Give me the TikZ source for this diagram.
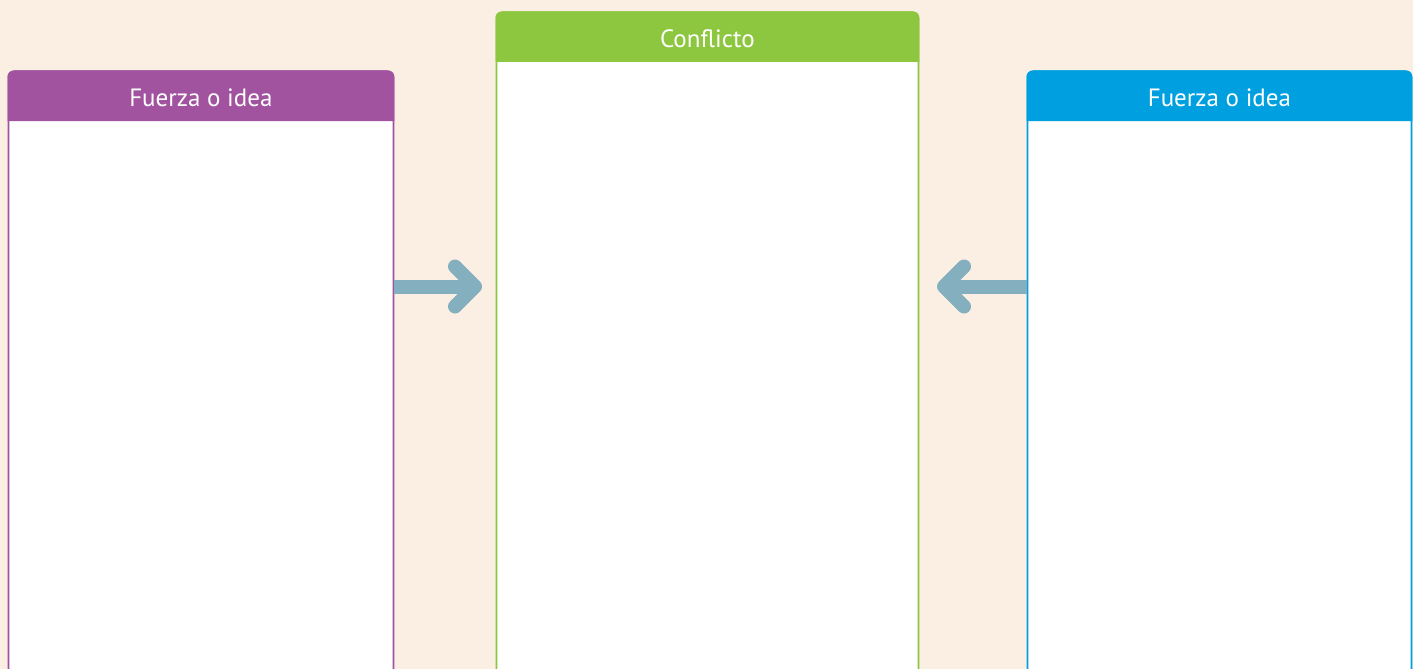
\documentclass[tikz,border=0pt]{standalone}
\usepackage{fontspec}
\setmainfont{PT Sans}
\usetikzlibrary{calc}
\definecolor{bg}{HTML}{FBEEE2}
\definecolor{cpurple}{HTML}{A2539F}
\definecolor{cgreen}{HTML}{8DC63F}
\definecolor{cblue}{HTML}{00A0E0}
\definecolor{carrow}{HTML}{84AFBE}
\tikzset{
  panel/.style={draw=#1, line width=1.8pt, fill=white, rounded corners=6pt, inner sep=0pt, anchor=north west},
  title/.style={text=white, font=\fontsize{25}{30}\selectfont, inner sep=0pt},
  shaft/.style={draw=carrow, line width=14pt, line cap=butt},
  barb/.style={draw=carrow, line width=14pt, line cap=round, line join=round},
}
\begin{document}
\begin{tikzpicture}[x=1pt,y=-1pt]
\useasboundingbox (0,0) rectangle (1413,669);
\fill[bg] (0,0) rectangle (1413,669);
\clip (0,0) rectangle (1413,669);
% panels
\node[panel=cpurple, minimum width=385pt, minimum height=640pt] (left) at (7.5,70.5) {};
\node[panel=cgreen, minimum width=422pt, minimum height=700pt] (mid) at (495.5,11.5) {};
\node[panel=cblue, minimum width=384pt, minimum height=640pt] (right) at (1026.5,70.5) {};
% headers
\fill[cpurple] (left.west |- 0,121) {[rounded corners=6pt] -- (left.north west) -- (left.north east)} -- (left.east |- 0,121) -- cycle;
\fill[cgreen] (mid.west |- 0,62) {[rounded corners=6pt] -- (mid.north west) -- (mid.north east)} -- (mid.east |- 0,62) -- cycle;
\fill[cblue] (right.west |- 0,121) {[rounded corners=6pt] -- (right.north west) -- (right.north east)} -- (right.east |- 0,121) -- cycle;
\node[title] (tl) at ($(left.north)+(0,27)$) {Fuerza o idea};
\node[title] (tm) at ($(mid.north)+(0,27)$) {Conflicto};
\node[title] (tr) at ($(right.north)+(0,27)$) {Fuerza o idea};
% arrows
\coordinate (tipL) at (475,286.5);
\coordinate (tipR) at (944,286.5);
\draw[shaft] (left.east |- tipL) -- (tipL);
\draw[barb] ($(tipL)+(-20,-20)$) -- (tipL) -- ($(tipL)+(-20,20)$);
\draw[shaft] (right.west |- tipR) -- (tipR);
\draw[barb] ($(tipR)+(20,-20)$) -- (tipR) -- ($(tipR)+(20,20)$);
\end{tikzpicture}
\end{document}
